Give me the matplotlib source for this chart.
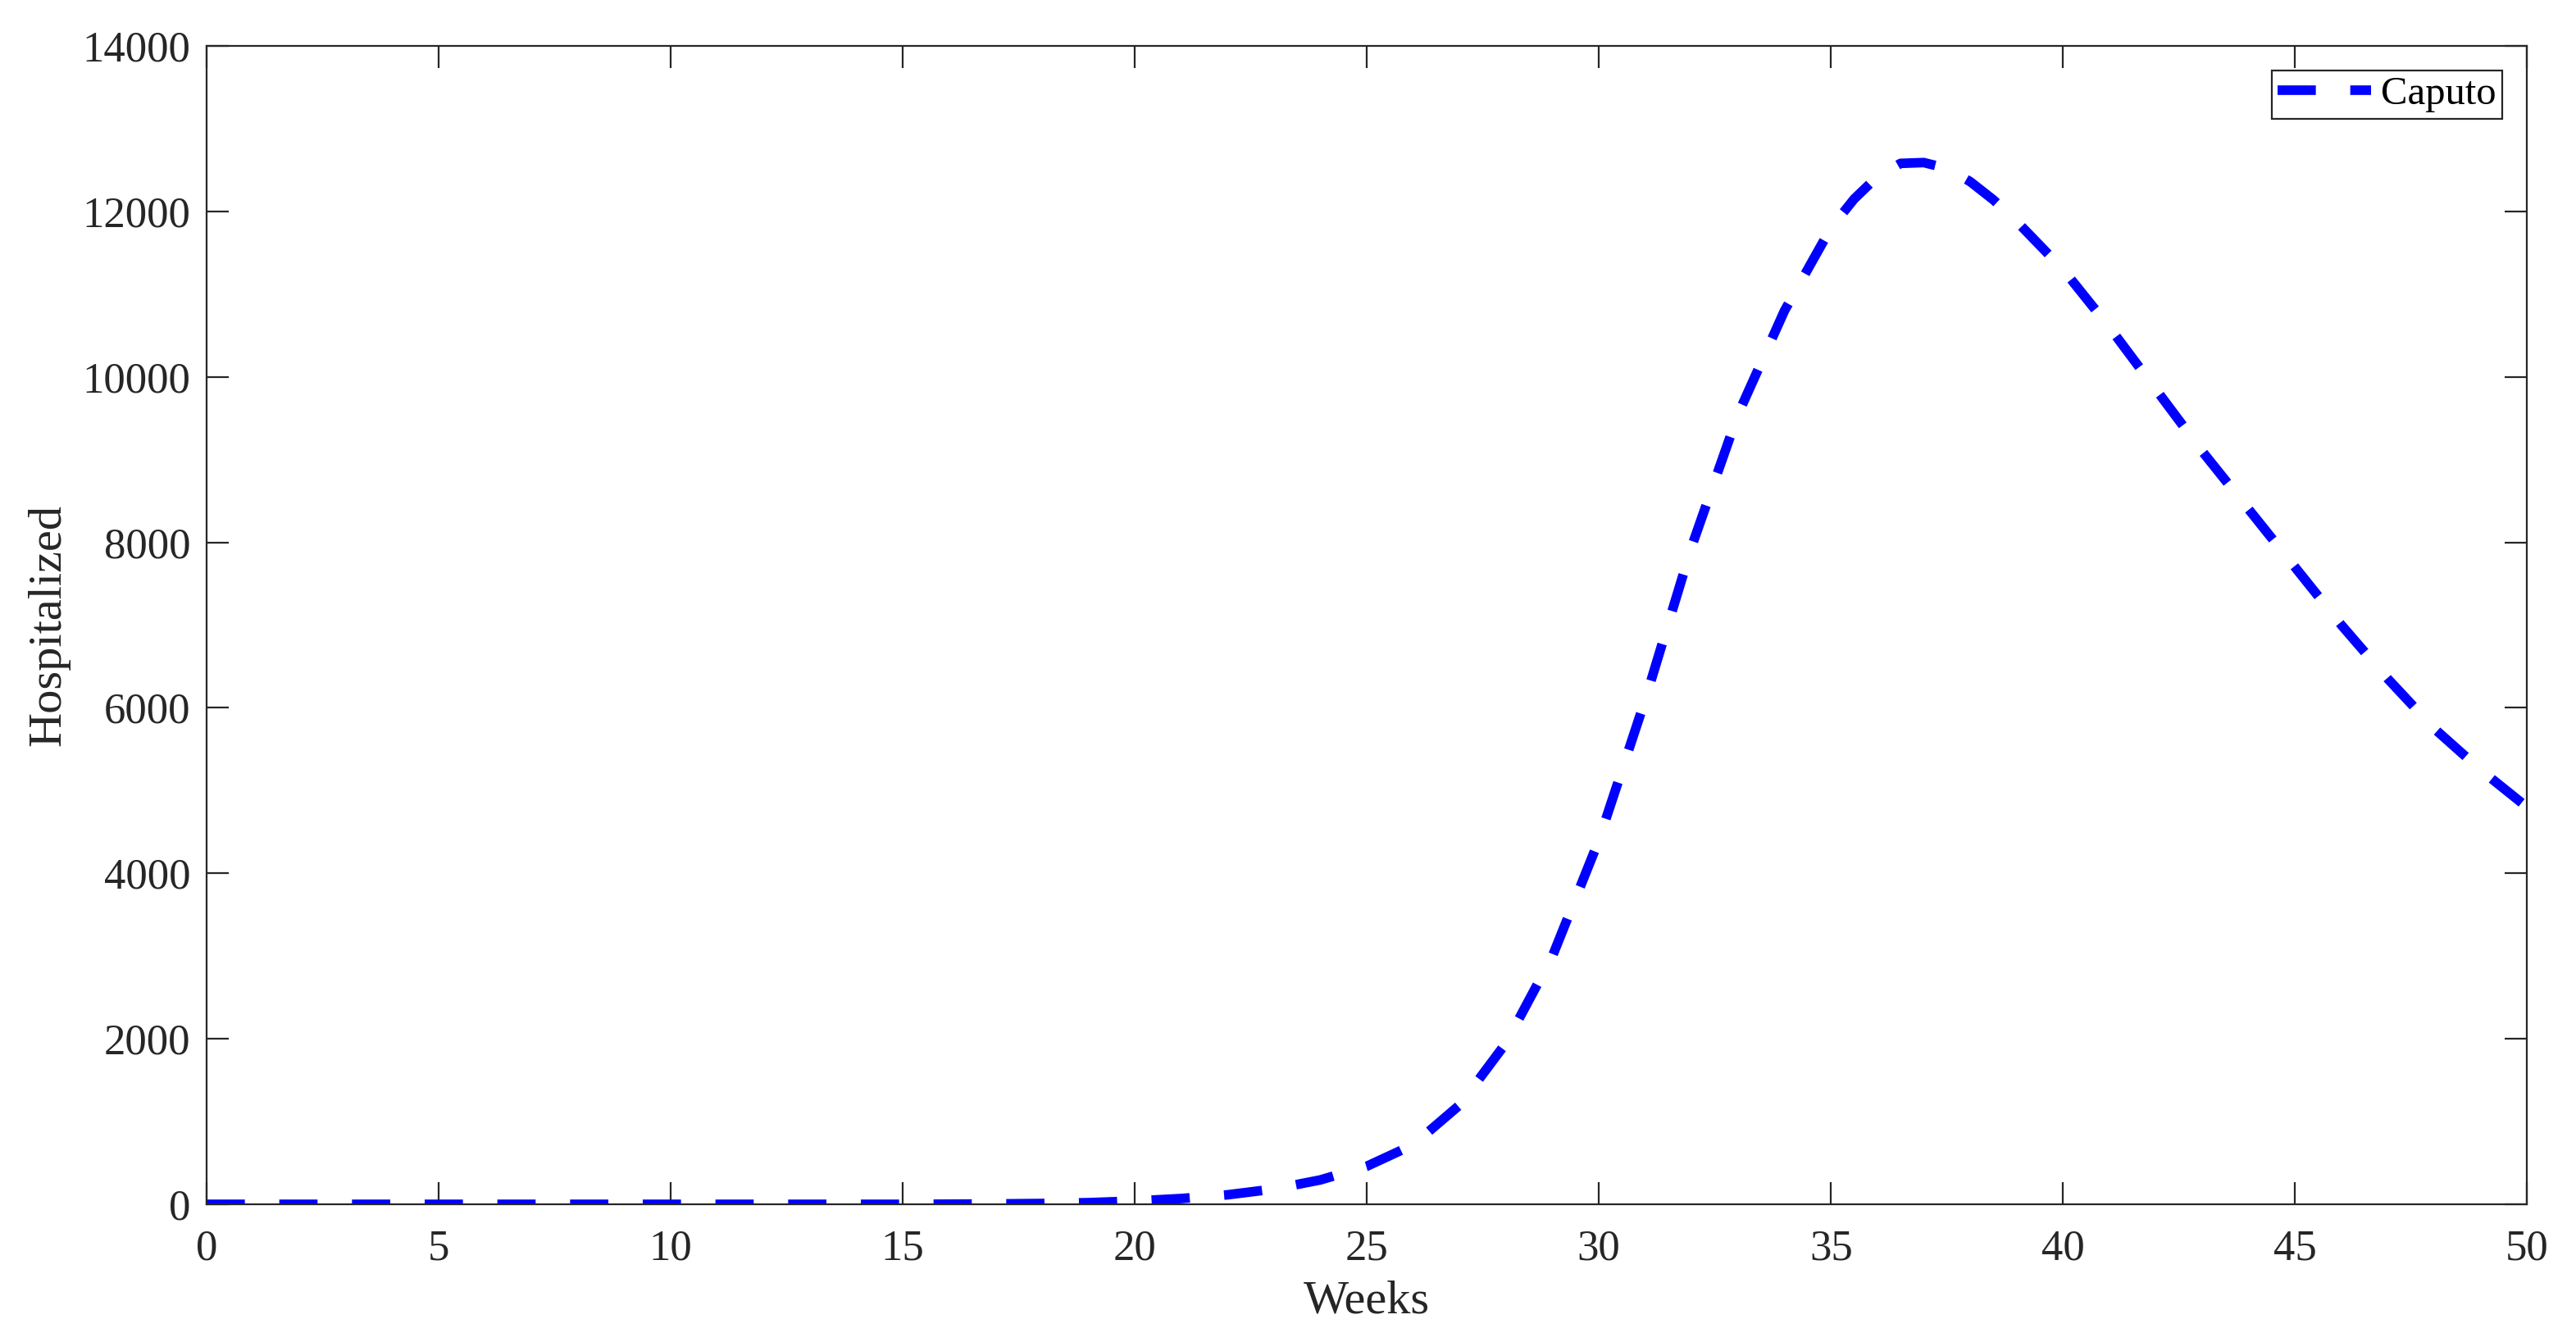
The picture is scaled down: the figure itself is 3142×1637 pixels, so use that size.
import numpy as np
import matplotlib
matplotlib.use('Agg')
import matplotlib.pyplot as plt

# Hospitalized over time (Caputo model)
weeks = [0, 5, 10, 15, 16, 17, 18, 19, 20, 21, 22, 23, 24, 25, 26, 27, 28, 29,
         30, 31, 32, 33, 34, 35, 35.5, 36, 36.5, 37, 37.5, 38, 38.5, 39, 40,
         41, 42, 43, 44, 45, 46, 47, 48, 49, 50]
hospitalized = [0, 0, 0, 0, 2, 5, 10, 20, 40, 70, 115, 185, 295, 460, 720,
                1200, 1950, 3000, 4400, 6100, 7950, 9550, 10800, 11800, 12150,
                12420, 12580, 12590, 12520, 12360, 12140, 11880, 11300, 10600,
                9850, 9100, 8400, 7700, 7000, 6350, 5750, 5250, 4800]

xticks = np.arange(0, 51, 5)
yticks = np.arange(0, 14001, 2000)

plt.rcParams['font.family'] = ['Liberation Serif', 'DejaVu Serif']

fig = plt.figure(figsize=(15.71, 8.185), dpi=200)
ax = fig.add_axes([0.0802, 0.1026, 0.9008, 0.8632])

ax.plot(weeks, hospitalized, color='#0000ff', linewidth=4.2,
        dashes=(4, 3.6), label='Caputo')

ax.set_xlim(0, 50)
ax.set_ylim(0, 14000)
ax.set_xticks(xticks)
ax.set_yticks(yticks)
ax.tick_params(direction='in', length=9.7, width=0.8, labelsize=19,
               top=True, right=True, colors='#262626', labelcolor='#262626')
ax.tick_params(axis='x', pad=11)
ax.tick_params(axis='y', pad=7)
for s in ax.spines.values():
    s.set_linewidth(0.8)
    s.set_color('#262626')

ax.set_xlabel('Weeks', fontsize=21, color='#262626', labelpad=5)
ax.set_ylabel('Hospitalized', fontsize=21, color='#262626', labelpad=5.5)

leg = ax.legend(loc='upper right', fontsize=17.5, fancybox=False,
                edgecolor='#262626', framealpha=1, handlelength=2.35,
                handletextpad=0.25, borderpad=0.15, borderaxespad=0.62)
leg.get_frame().set_linewidth(0.8)

fig.savefig('out.png', dpi=200)
